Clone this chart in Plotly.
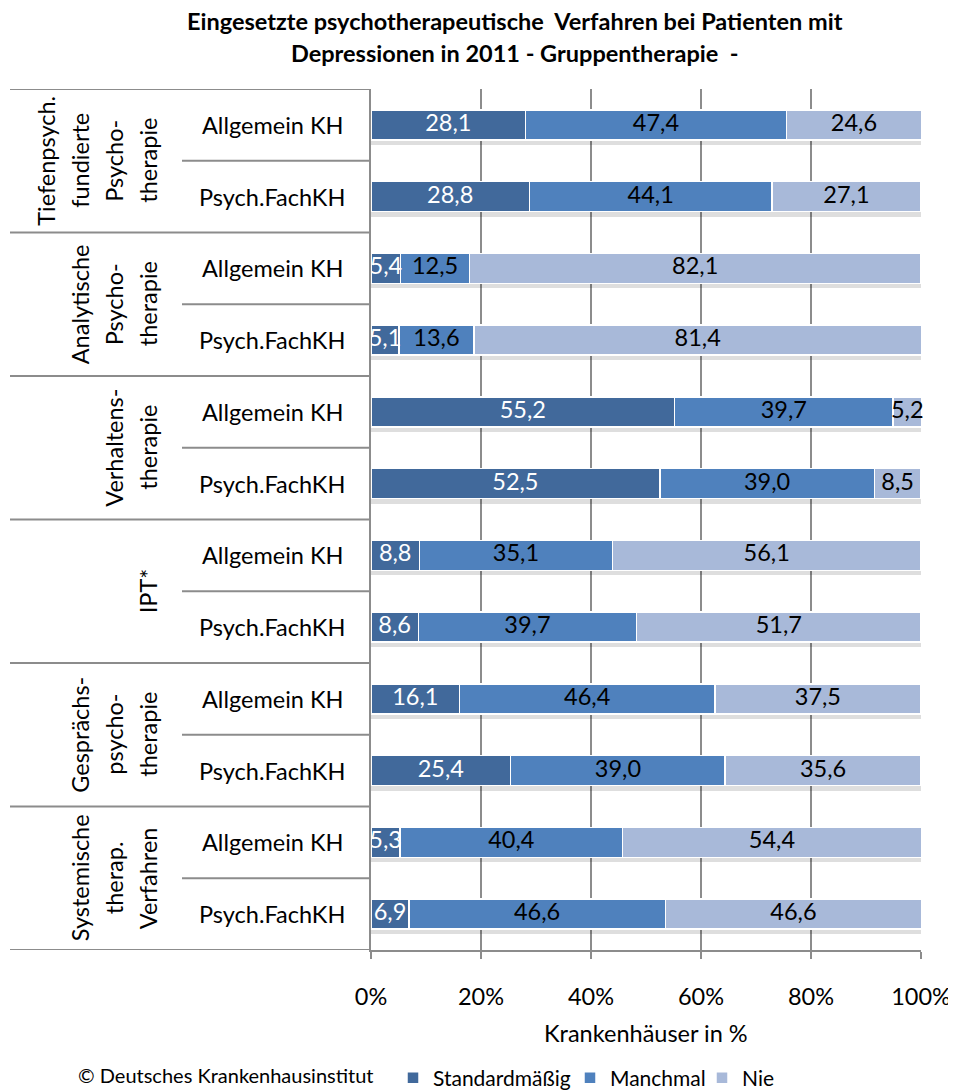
import plotly.graph_objects as go

# --- data -------------------------------------------------------------
groups = [
    ["Tiefenpsych.", "fundierte", "Psycho-", "therapie"],
    ["Analytische", "Psycho-", "therapie"],
    ["Verhaltens-", "therapie"],
    ["IPT*"],
    ["Gesprächs-", "psycho-", "therapie"],
    ["Systemische", "therap.", "Verfahren"],
]
subcats = ["Allgemein KH", "Psych.FachKH"]

standard = [28.1, 28.8, 5.4, 5.1, 55.2, 52.5, 8.8, 8.6, 16.1, 25.4, 5.3, 6.9]
manchmal = [47.4, 44.1, 12.5, 13.6, 39.7, 39.0, 35.1, 39.7, 46.4, 39.0, 40.4, 46.6]
nie = [24.6, 27.1, 82.1, 81.4, 5.2, 8.5, 56.1, 51.7, 37.5, 35.6, 54.4, 46.6]

series_names = ["Standardmäßig", "Manchmal", "Nie"]
x_ticks = [0, 20, 40, 60, 80, 100]
x_ticklabels = ["0%", "20%", "40%", "60%", "80%", "100%"]

title_lines = [
    "Eingesetzte psychotherapeutische  Verfahren bei Patienten mit",
    "Depressionen in 2011 - Gruppentherapie  -",
]

# --- styling ----------------------------------------------------------
FONT = "Lato, Calibri, Carlito, sans-serif"
FS = 23.5
COLORS = ["#41699b", "#4f81bd", "#a8b9d9"]
TEXT_COLORS = ["white", "black", "black"]
GRID = "#8c8c8c"
LEGEND_TEXT_X = [433, 610, 742]   # where legend texts start (page px)

# the page body has an 8px margin, so the figure sits 8px in
W, H = 948, 1084
L, R, T, B = 363, 35, 81, 142
PW = W - L - R
PH = H - T - B
PAGE_L, PAGE_B = L + 8, H - B + 8


def px_x(px):
    return (px - PAGE_L) / PW


def px_y(py):
    return (PAGE_B - py) / PH


def fmt(v):
    return f"{v:.1f}".replace(".", ",")


rows = list(range(len(standard)))
series = [standard, manchmal, nie]
totals = [a + b + c for a, b, c in zip(*series)]
SHADOW_SHIFT = 5 / PH * len(rows)   # shadow sits ~5px under the bars

fig = go.Figure()

# soft shadow under each bar (on the lower axis y)
fig.add_trace(go.Bar(
    y=rows, x=totals, orientation="h", width=0.42,
    marker=dict(color="rgba(0,0,0,0.13)", line=dict(width=0)),
    showlegend=False, hoverinfo="skip", yaxis="y",
))

for k, (name, vals, col) in enumerate(zip(series_names, series, COLORS)):
    fig.add_trace(go.Bar(
        y=rows, x=vals, name=name, orientation="h",
        width=0.42, yaxis="y2",
        legend="legend" if k == 0 else f"legend{k + 1}",
        marker=dict(color=col, line=dict(color="white", width=1.5)),
        hoverinfo="skip",
    ))

# value labels, centred in each segment
base = [0.0] * len(rows)
for vals, tcol in zip(series, TEXT_COLORS):
    centers = [b + v / 2 for b, v in zip(base, vals)]
    fig.add_trace(go.Scatter(
        x=centers, y=rows, mode="text", yaxis="y2",
        text=[fmt(v) for v in vals],
        textfont=dict(family=FONT, size=FS, color=tcol),
        showlegend=False, hoverinfo="skip", cliponaxis=False,
    ))
    base = [b + v for b, v in zip(base, vals)]

annotations = []
shapes = []

# title
for i, line in enumerate(title_lines):
    annotations.append(dict(
        text=f"<b>{line}</b>", x=px_x(515), y=px_y(21 + 32 * i),
        xref="paper", yref="paper", showarrow=False,
        xanchor="center", yanchor="middle",
        font=dict(family=FONT, size=23.5, color="black"),
    ))

# sub-category labels
for r in rows:
    annotations.append(dict(
        text=subcats[r % 2], x=px_x(272), y=r,
        xref="paper", yref="y2", showarrow=False,
        xanchor="center", yanchor="middle",
        font=dict(family=FONT, size=FS, color="black"),
    ))

# rotated group labels, one annotation per line
for g, lines in enumerate(groups):
    n = len(lines)
    for i, line in enumerate(lines):
        annotations.append(dict(
            text=line, x=px_x(148 - 34 * (n - 1 - i)), y=2 * g + 0.5,
            xref="paper", yref="y2", showarrow=False, textangle=-90,
            xanchor="center", yanchor="middle",
            font=dict(family=FONT, size=FS, color="black"),
        ))

# table lines on the left
for g in range(len(groups) + 1):
    shapes.append(dict(
        type="line", xref="paper", yref="y2",
        x0=px_x(10), x1=0, y0=2 * g - 0.5, y1=2 * g - 0.5,
        line=dict(color=GRID, width=2),
    ))
for g in range(len(groups)):
    shapes.append(dict(
        type="line", xref="paper", yref="y2",
        x0=px_x(182), x1=0, y0=2 * g + 0.5, y1=2 * g + 0.5,
        line=dict(color=GRID, width=2),
    ))

# axis title and source
annotations.append(dict(
    text="Krankenhäuser in %", x=0.5, y=px_y(1033),
    xref="paper", yref="paper", showarrow=False,
    xanchor="center", yanchor="middle",
    font=dict(family=FONT, size=FS, color="black"),
))
annotations.append(dict(
    text="© Deutsches Krankenhausinstitut", x=px_x(226), y=px_y(1075),
    xref="paper", yref="paper", showarrow=False,
    xanchor="center", yanchor="middle",
    font=dict(family=FONT, size=20, color="black"),
))

legends = {}
for k, tx in enumerate(LEGEND_TEXT_X):
    key = "legend" if k == 0 else f"legend{k + 1}"
    legends[key] = dict(
        orientation="h", x=px_x(tx - 40), xanchor="left",
        y=px_y(1078), yanchor="middle",
        font=dict(family=FONT, size=21), bgcolor="rgba(0,0,0,0)",
    )

fig.update_layout(
    width=W, height=H,
    margin=dict(l=L, r=R, t=T, b=B, autoexpand=False),
    barmode="stack",
    plot_bgcolor="white", paper_bgcolor="white",
    font=dict(family=FONT, size=FS, color="black"),
    showlegend=True,
    annotations=annotations,
    shapes=shapes,
    **legends,
)

fig.update_xaxes(
    range=[0, 100], tickvals=x_ticks, ticktext=x_ticklabels,
    showgrid=True, gridcolor=GRID, gridwidth=1.5,
    showline=True, linecolor=GRID, linewidth=2,
    ticks="outside", ticklen=7, tickcolor=GRID, tickwidth=2,
    ticklabelstandoff=18, zeroline=False,
    tickfont=dict(family=FONT, size=FS),
)
fig.update_layout(
    yaxis=dict(
        range=[11.5 - SHADOW_SHIFT, -0.5 - SHADOW_SHIFT],
        showticklabels=False, showgrid=False,
        showline=True, linecolor=GRID, linewidth=2, zeroline=False,
        ticks="",
    ),
    yaxis2=dict(
        range=[11.5, -0.5], overlaying="y", showticklabels=False,
        showgrid=False, showline=False, zeroline=False, ticks="",
    ),
)

fig.write_html("out.html")
